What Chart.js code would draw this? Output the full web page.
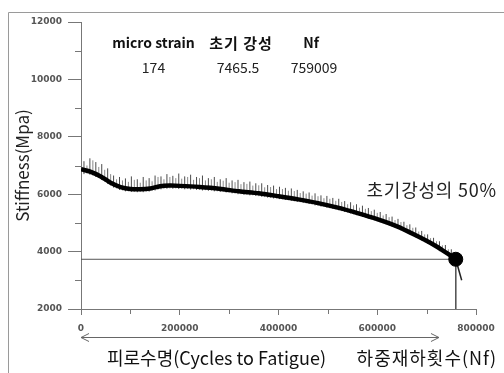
<!DOCTYPE html>
<html>
<head>
<meta charset="utf-8">
<script src="https://cdn.jsdelivr.net/npm/chart.js@4.4.1/dist/chart.umd.min.js"></script>
<style>
  html, body { margin: 0; padding: 0; background: #fff; }
  #wrap { width: 504px; height: 373px; }
</style>
</head>
<body>
<div id="wrap"><canvas id="chart" width="504" height="373"></canvas></div>
<script>
// Test summary
const microStrain = 174;
const initialStiffness = 7465.5;
const fatigueLife = 759009;
const halfStiffness = initialStiffness * 0.5;

// Smoothed stiffness trend (cycles, MPa)
const trendCycles = [0, 20000, 40000, 60000, 80000, 100000, 120000, 140000, 160000, 180000,
  200000, 240000, 280000, 320000, 360000, 400000, 440000, 480000, 520000, 560000,
  600000, 640000, 680000, 710000, 730000, 745000, 759009];
const trendStiffness = [6870, 6780, 6620, 6400, 6250, 6180, 6170, 6200, 6280, 6300,
  6290, 6250, 6190, 6100, 6030, 5930, 5820, 5690, 5530, 5340,
  5130, 4880, 4550, 4280, 4070, 3900, 3733];

// Scatter of individual readings around the trend (cycles, min, max)
const spikeCycles = [6000, 18000, 30000, 42000, 54000, 66000, 78000, 90000, 102000, 114000,
  126000, 138000, 150000, 162000, 174000, 186000, 198000, 210000, 222000, 234000,
  246000, 258000, 270000, 282000, 294000, 306000, 318000, 330000, 342000, 354000,
  366000, 378000, 390000, 402000, 414000, 426000, 438000, 450000, 462000, 474000,
  486000, 498000, 510000, 522000, 534000, 546000, 558000, 570000, 582000, 594000,
  606000, 618000, 630000, 642000, 654000, 666000, 678000, 690000, 702000, 714000,
  726000, 738000, 750000];
const spikeHigh = [7150, 7250, 7120, 7050, 6900, 6650, 6600, 6550, 6620, 6520,
  6600, 6560, 6650, 6620, 6700, 6640, 6720, 6620, 6680, 6600,
  6650, 6560, 6600, 6520, 6560, 6480, 6500, 6420, 6440, 6380,
  6380, 6320, 6300, 6260, 6220, 6200, 6150, 6100, 6060, 6030,
  5960, 5940, 5870, 5840, 5760, 5720, 5650, 5600, 5520, 5460,
  5380, 5310, 5220, 5140, 5040, 4950, 4840, 4720, 4600, 4480,
  4360, 4230, 4080];
const spikeLow = [6700, 6680, 6600, 6500, 6360, 6230, 6150, 6100, 6080, 6070,
  6070, 6090, 6130, 6170, 6190, 6190, 6180, 6170, 6160, 6150,
  6130, 6120, 6100, 6080, 6060, 6030, 6000, 5980, 5960, 5940,
  5910, 5880, 5850, 5830, 5800, 5770, 5730, 5700, 5660, 5610,
  5570, 5530, 5490, 5440, 5380, 5330, 5270, 5210, 5150, 5090,
  5020, 4950, 4870, 4790, 4700, 4600, 4500, 4390, 4280, 4170,
  4050, 3920, 3790];

// Readings in between (smaller excursions)
const minorCycles = [12000, 24000, 36000, 48000, 60000, 72000, 84000, 96000, 108000, 120000,
  132000, 144000, 156000, 168000, 180000, 192000, 204000, 216000, 228000, 240000,
  252000, 264000, 276000, 288000, 300000, 312000, 324000, 336000, 348000, 360000,
  372000, 384000, 396000, 408000, 420000, 432000, 444000, 456000, 468000, 480000,
  492000, 504000, 516000, 528000, 540000, 552000, 564000, 576000, 588000, 600000,
  612000, 624000, 636000, 648000, 660000, 672000, 684000, 696000, 708000, 720000,
  732000, 744000];
const minorHigh = [7000, 7180, 6950, 6850, 6700, 6520, 6480, 6430, 6500, 6400,
  6480, 6450, 6600, 6520, 6600, 6560, 6540, 6600, 6500, 6560,
  6480, 6520, 6430, 6470, 6400, 6420, 6350, 6360, 6300, 6310,
  6240, 6250, 6180, 6180, 6120, 6110, 6040, 6020, 5950, 5930,
  5860, 5840, 5770, 5730, 5650, 5610, 5530, 5490, 5410, 5350,
  5260, 5200, 5100, 5030, 4920, 4830, 4700, 4600, 4470, 4360,
  4220, 4080];
const minorLow = [6720, 6650, 6560, 6430, 6300, 6200, 6130, 6100, 6080, 6080,
  6090, 6120, 6160, 6190, 6200, 6200, 6190, 6180, 6170, 6150,
  6140, 6120, 6100, 6080, 6050, 6020, 6000, 5980, 5960, 5930,
  5900, 5870, 5850, 5820, 5790, 5750, 5720, 5680, 5640, 5600,
  5560, 5510, 5470, 5410, 5360, 5300, 5240, 5180, 5120, 5050,
  4980, 4910, 4830, 4740, 4650, 4550, 4440, 4330, 4220, 4100,
  3980, 3850];

// Readings after failure
const tailCycles = [759009, 771000];
const tailStiffness = [3733, 3000];

const trendData = trendCycles.map((c, i) => ({ x: c, y: trendStiffness[i] }));
function toSegments(cycles, low, high) {
  const out = [];
  cycles.forEach((c, i) => {
    out.push({ x: c, y: low[i] }, { x: c, y: high[i] }, { x: c, y: null });
  });
  return out;
}
const spikeData = toSegments(spikeCycles, spikeLow, spikeHigh);
const minorData = toSegments(minorCycles, minorLow, minorHigh);
const tailData = tailCycles.map((c, i) => ({ x: c, y: tailStiffness[i] }));
const refData = [
  { x: 0, y: halfStiffness },
  { x: fatigueLife, y: halfStiffness },
  { x: fatigueLife, y: 2000 }
];

const KR = '"Noto Sans CJK KR", "Noto Sans", sans-serif';
const TICK_FONT = { family: '"DejaVu Sans", sans-serif', size: 9, weight: 'bold' };

// minor ticks, frame and text notes
const decorPlugin = {
  id: 'decor',
  beforeDraw(chart) {
    const ctx = chart.ctx;
    ctx.save();
    ctx.strokeStyle = '#9a9a9a';
    ctx.lineWidth = 1;
    ctx.beginPath();
    ctx.moveTo(8.5, 373);
    ctx.lineTo(8.5, 12.5);
    ctx.lineTo(504, 12.5);
    ctx.stroke();
    ctx.restore();
  },
  afterDraw(chart) {
    const { ctx, scales: { x, y } } = chart;
    ctx.save();

    // minor ticks
    ctx.strokeStyle = '#777';
    ctx.lineWidth = 1;
    ctx.beginPath();
    [3000, 5000, 7000, 9000, 11000].forEach(v => {
      const py = Math.round(y.getPixelForValue(v)) + 0.5;
      ctx.moveTo(x.left - 6, py);
      ctx.lineTo(x.left, py);
    });
    [100000, 300000, 500000, 700000].forEach(v => {
      const px = Math.round(x.getPixelForValue(v)) + 0.5;
      ctx.moveTo(px, y.bottom);
      ctx.lineTo(px, y.bottom + 5);
    });
    ctx.stroke();

    // summary table
    ctx.fillStyle = '#111';
    ctx.textAlign = 'center';
    ctx.textBaseline = 'middle';
    ctx.font = 'bold 14px ' + KR;
    ctx.fillText('micro strain', 153.5, 43);
    ctx.font = 'bold 15px ' + KR;
    ctx.letterSpacing = '1px';
    ctx.fillText('초기 강성', 241, 43);
    ctx.letterSpacing = '0px';
    ctx.font = 'bold 14px ' + KR;
    ctx.fillText('Nf', 311, 43);
    ctx.font = '14px ' + KR;
    ctx.fillStyle = '#222';
    ctx.fillText(String(microStrain), 153.5, 68);
    ctx.fillText(String(initialStiffness), 238, 68);
    ctx.fillText(String(fatigueLife), 314, 68);

    // 50% note
    ctx.font = '18px ' + KR;
    ctx.letterSpacing = '0.8px';
    ctx.textAlign = 'right';
    ctx.fillText('초기강성의 50%', 497, 190);

    // cycles arrow
    const ay = 337.5;
    const ax0 = x.getPixelForValue(0);
    const ax1 = x.getPixelForValue(725000);
    ctx.strokeStyle = '#666';
    ctx.beginPath();
    ctx.moveTo(ax0, ay);
    ctx.lineTo(ax1, ay);
    ctx.moveTo(ax0 + 8, ay - 4);
    ctx.lineTo(ax0, ay);
    ctx.lineTo(ax0 + 8, ay + 4);
    ctx.moveTo(ax1 - 8, ay - 4);
    ctx.lineTo(ax1, ay);
    ctx.lineTo(ax1 - 8, ay + 4);
    ctx.stroke();

    // bottom captions
    ctx.fillStyle = '#111';
    ctx.font = '18px ' + KR;
    ctx.letterSpacing = '0px';
    ctx.textAlign = 'left';
    ctx.fillText('피로수명(Cycles to Fatigue)', 107, 358);
    ctx.letterSpacing = '1px';
    ctx.textAlign = 'right';
    ctx.fillText('하중재하횟수(Nf)', 497, 358);
    ctx.restore();
  }
};

new Chart(document.getElementById('chart').getContext('2d'), {
  type: 'line',
  data: {
    datasets: [
      {
        label: 'failure point',
        data: [{ x: fatigueLife, y: halfStiffness }],
        showLine: false,
        pointRadius: 7,
        pointBackgroundColor: '#000',
        pointBorderColor: '#000',
        order: 0
      },
      {
        label: 'stiffness',
        data: trendData,
        borderColor: '#000',
        borderWidth: 4.5,
        pointRadius: 0,
        tension: 0.3,
        order: 1
      },
      {
        label: 'after failure',
        data: tailData,
        borderColor: '#222',
        borderWidth: 1.5,
        pointRadius: 0,
        order: 1
      },
      {
        label: 'readings',
        data: spikeData,
        borderColor: 'rgba(30,30,30,0.8)',
        borderWidth: 1,
        pointRadius: 0,
        spanGaps: false,
        order: 2
      },
      {
        label: 'readings (minor)',
        data: minorData,
        borderColor: 'rgba(60,60,60,0.6)',
        borderWidth: 1,
        pointRadius: 0,
        spanGaps: false,
        order: 2
      },
      {
        label: '50% stiffness',
        data: refData,
        borderColor: '#555',
        borderWidth: 1,
        pointRadius: 0,
        order: 3
      }
    ]
  },
  options: {
    responsive: false,
    animation: false,
    layout: { padding: { top: 22, right: 28, left: 0, bottom: 0 } },
    plugins: {
      legend: { display: false },
      tooltip: { enabled: false }
    },
    scales: {
      x: {
        type: 'linear',
        min: 0,
        max: 800000,
        border: { color: '#777', width: 1 },
        grid: { drawOnChartArea: false, color: '#777', tickLength: 6 },
        ticks: {
          stepSize: 200000,
          padding: 8,
          color: '#555',
          font: TICK_FONT,
          maxRotation: 0,
          callback: (v) => String(v)
        },
        afterFit: (scale) => { scale.height = 64; }
      },
      y: {
        min: 2000,
        max: 12000,
        border: { color: '#777', width: 1 },
        grid: { drawOnChartArea: false, color: '#777', tickLength: 13 },
        ticks: {
          stepSize: 2000,
          padding: 6,
          color: '#555',
          font: TICK_FONT,
          callback: (v) => String(v)
        },
        title: {
          display: true,
          text: 'Stiffness(Mpa)',
          color: '#222',
          font: { family: KR, size: 17 },
          padding: { top: 12, bottom: 0 }
        },
        afterFit: (scale) => { scale.width = 81; }
      }
    }
  },
  plugins: [decorPlugin]
});
</script>
</body>
</html>
